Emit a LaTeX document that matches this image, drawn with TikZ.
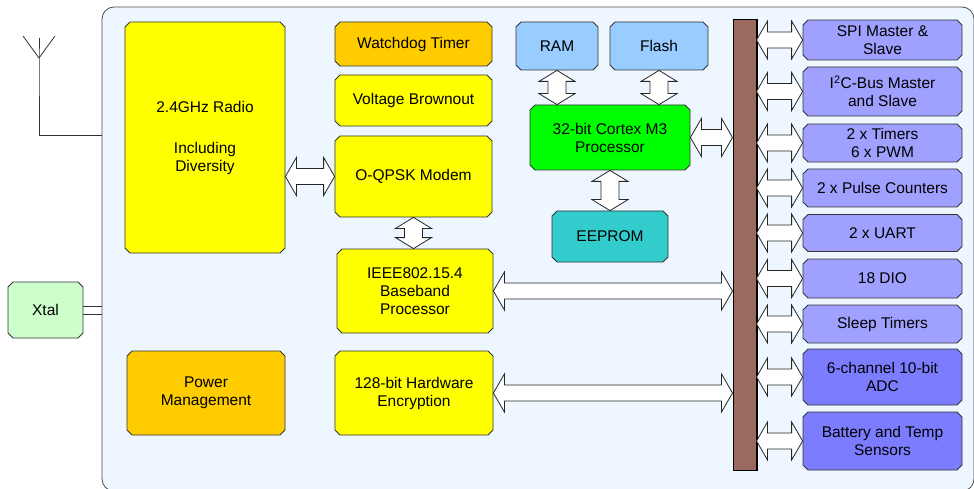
\documentclass[tikz,border=0pt]{standalone}
\usepackage{fontspec}
\setmainfont{Liberation Sans}
\usetikzlibrary{calc,shapes.misc}

\definecolor{bgblue}{HTML}{EEF6FF}
\definecolor{ylw}{HTML}{FFFF00}
\definecolor{orng}{HTML}{FFCC00}
\definecolor{cpugreen}{HTML}{00FF00}
\definecolor{memblue}{HTML}{99CCFF}
\definecolor{teal2}{HTML}{33CCCC}
\definecolor{perlight}{HTML}{A0A0FF}
\definecolor{perdark}{HTML}{7C7CFF}
\definecolor{busbrown}{HTML}{9A6A5E}
\definecolor{xtalgreen}{HTML}{CCFFCC}

\tikzset{
  blk/.style={chamfered rectangle, chamfered rectangle xsep=2.5pt,
    chamfered rectangle ysep=2.5pt, draw=black!80, line width=0.8pt,
    inner sep=0pt, align=center, font=\fontsize{15.5}{18}\selectfont},
  fatarr/.style={draw=black!85, line width=0.8pt, fill=white},
}

% hollow double arrow, left to right
\newcommand{\harr}[2]{%
  \draw[fatarr] let \p1=#1, \p2=#2 in
    (\x1,\y1) -- ++(11pt,19pt) -- ++(0,-11pt) -- (\x2-11pt,\y2+8pt)
    -- ++(0,11pt) -- (\x2,\y2) -- ++(-11pt,-19pt) -- ++(0,11pt)
    -- (\x1+11pt,\y1-8pt) -- ++(0,-11pt) -- cycle;}
% hollow double arrow, top to bottom
\newcommand{\varr}[2]{%
  \draw[fatarr] let \p1=#1, \p2=#2 in
    (\x1,\y1) -- ++(18pt,-11pt) -- ++(-9pt,0) -- (\x2+9pt,\y2+11pt)
    -- ++(9pt,0) -- (\x2,\y2) -- ++(-18pt,11pt) -- ++(9pt,0)
    -- (\x1-9pt,\y1-11pt) -- ++(-9pt,0) -- cycle;}

\begin{document}
\begin{tikzpicture}[x=1pt,y=-1pt]
  \useasboundingbox (0,0) rectangle (974,489);

  % chip outline
  \node[draw=black!70, line width=0.8pt, fill=bgblue, rounded corners=12pt,
    minimum width=872, minimum height=484, inner sep=0pt] (bg) at (538,249) {};

  % antenna and crystal
  \coordinate (ant) at (39,58);
  \coordinate (antL) at (23,36);
  \coordinate (antM) at (39,38);
  \coordinate (antR) at (55,36);
  \draw[line width=0.8pt, black!80] (antL) -- (ant) -- (antR);
  \draw[line width=0.8pt, black!80] (antM) -- (ant) |- (bg.west |- 0,135);

  \node[blk, fill=xtalgreen, minimum width=75, minimum height=56] (xtal) at (45.5,310) {Xtal};
  \draw[line width=0.8pt, black!80] ([yshift=4pt]xtal.east) -- ([yshift=4pt]xtal.east -| bg.west);
  \draw[line width=0.8pt, black!80] ([yshift=-4pt]xtal.east) -- ([yshift=-4pt]xtal.east -| bg.west);

  % radio side
  \node[blk, fill=ylw, minimum width=160, minimum height=231] (radio) at (205,137.5)
    {2.4GHz Radio\\[23pt]Including\\Diversity};
  \node[blk, fill=orng, minimum width=158, minimum height=84] (pwr) at (206,393) {Power\\Management};

  \node[blk, fill=orng, minimum width=157, minimum height=44] (wdt) at (413.5,44) {Watchdog Timer};
  \node[blk, fill=ylw, minimum width=157, minimum height=51] (vbo) at (413.5,100.5) {Voltage Brownout};
  \node[blk, fill=ylw, minimum width=157, minimum height=81] (modem) at (413.5,176.5) {O-QPSK Modem};
  \node[blk, fill=ylw, minimum width=156, minimum height=84] (bb) at (415,291)
    {IEEE802.15.4\\Baseband\\Processor};
  \node[blk, fill=ylw, minimum width=158, minimum height=84] (enc) at (414,393)
    {128-bit Hardware\\Encryption};

  % processor and memories
  \node[blk, fill=memblue, minimum width=82, minimum height=48] (ram) at (557,46) {RAM};
  \node[blk, fill=memblue, minimum width=98, minimum height=48] (flash) at (659,46) {Flash};
  \node[blk, fill=cpugreen, minimum width=160, minimum height=65] (cpu) at (610,137.5)
    {32-bit Cortex M3\\Processor};
  \node[blk, fill=teal2, minimum width=116, minimum height=51] (eeprom) at (610,236.5) {EEPROM};

  % peripheral bus
  \node[draw=black, line width=1pt, fill=busbrown, minimum width=23, minimum height=450,
    inner sep=0pt] (bus) at (744.5,245) {};
  \draw[line width=2pt] (bus.north east) -- (bus.south east);

  \node[blk, fill=perlight, minimum width=159, minimum height=40] (spi) at (882.5,40) {SPI Master \&\\Slave};
  \node[blk, fill=perlight, minimum width=159, minimum height=49] (iic) at (882.5,91.5)
    {I\textsuperscript{2}C-Bus Master\\and Slave};
  \node[blk, fill=perlight, minimum width=159, minimum height=38] (tmr) at (882.5,143) {2 x Timers\\6 x PWM};
  \node[blk, fill=perlight, minimum width=159, minimum height=38] (pcnt) at (882.5,188) {2 x Pulse Counters};
  \node[blk, fill=perlight, minimum width=159, minimum height=37] (uart) at (882.5,233) {2 x UART};
  \node[blk, fill=perlight, minimum width=159, minimum height=39] (dio) at (882.5,278.5) {18 DIO};
  \node[blk, fill=perlight, minimum width=159, minimum height=38] (slp) at (882.5,324) {Sleep Timers};
  \node[blk, fill=perdark, minimum width=159, minimum height=56] (adc) at (882.5,377) {6-channel 10-bit\\ADC};
  \node[blk, fill=perdark, minimum width=159, minimum height=58] (bat) at (882.5,441)
    {Battery and Temp\\Sensors};

  % connections
  \harr{(radio.east |- modem.west)}{(modem.west)}
  \varr{(modem.south)}{(modem.south |- bb.north)}
  \harr{(bb.east)}{(bus.west |- bb.east)}
  \harr{(enc.east)}{(bus.west |- enc.east)}
  \varr{(ram.south)}{(ram.south |- cpu.north)}
  \varr{(flash.south)}{(flash.south |- cpu.north)}
  \varr{(cpu.south)}{(eeprom.north)}
  \harr{(cpu.east)}{(bus.west |- cpu.east)}
  \foreach \per in {spi,iic,tmr,pcnt,uart,dio,slp,adc,bat}
    \harr{(bus.east |- \per.west)}{(\per.west)};
\end{tikzpicture}
\end{document}
